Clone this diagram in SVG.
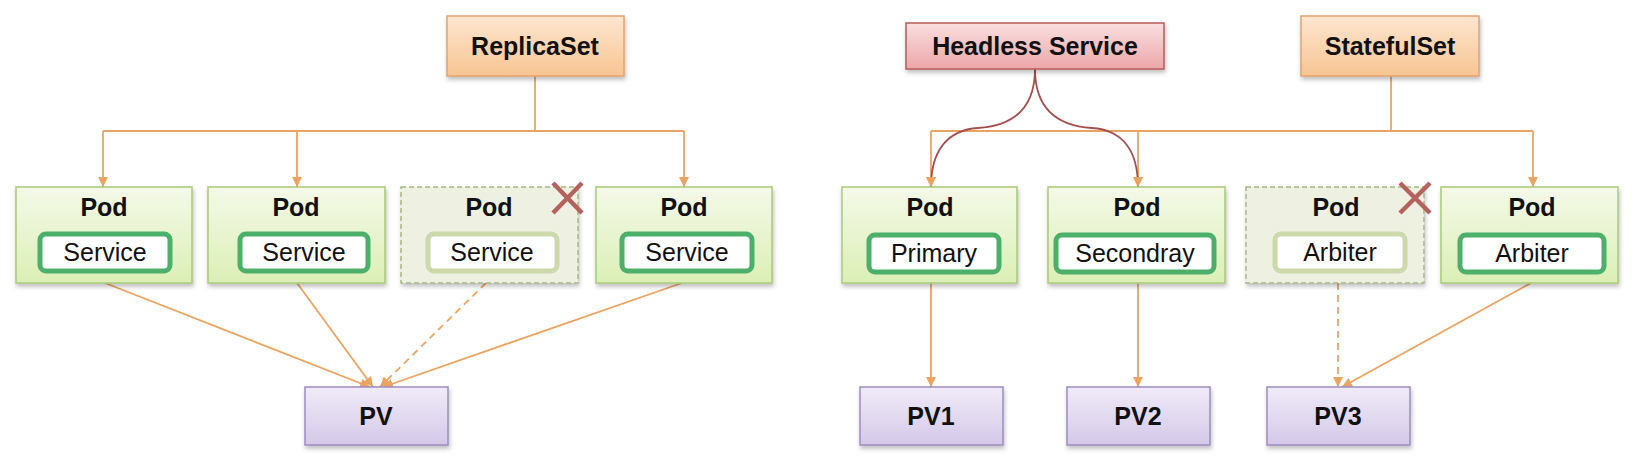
<svg xmlns="http://www.w3.org/2000/svg" width="1634" height="464" viewBox="0 0 1634 464">
<defs>
<linearGradient id="gPod" x1="0" y1="0" x2="0" y2="1"><stop offset="0" stop-color="#f4f9e8"/><stop offset="1" stop-color="#dcefb6"/></linearGradient>
<linearGradient id="gOr" x1="0" y1="0" x2="0" y2="1"><stop offset="0" stop-color="#fde6d0"/><stop offset="1" stop-color="#f8c592"/></linearGradient>
<linearGradient id="gPk" x1="0" y1="0" x2="0" y2="1"><stop offset="0" stop-color="#fadfe0"/><stop offset="1" stop-color="#eca6a8"/></linearGradient>
<linearGradient id="gPu" x1="0" y1="0" x2="0" y2="1"><stop offset="0" stop-color="#f0ebf8"/><stop offset="1" stop-color="#d4c8e8"/></linearGradient>
<filter id="sh" x="-10%" y="-10%" width="130%" height="140%"><feDropShadow dx="1" dy="3" stdDeviation="2" flood-color="#000" flood-opacity="0.25"/></filter>
<marker id="ah" viewBox="0 0 10 10" refX="10" refY="5" markerWidth="10" markerHeight="10" markerUnits="userSpaceOnUse" orient="auto"><path d="M0,0 L10,5 L0,10 z" fill="#e9a462"/></marker>
<style>
.pod{fill:url(#gPod);stroke:#a9c97a;stroke-width:1.5;filter:url(#sh)}
.podd{fill:#eef0e2;stroke:#a4b884;stroke-width:1.5;stroke-dasharray:5,3;filter:url(#sh)}
.in{fill:#fff;stroke:#4caf6a;stroke-width:5}
.ind{fill:#fff;stroke:#cbd9ab;stroke-width:5}
.or{fill:url(#gOr);stroke:#e2a36f;stroke-width:1.5;filter:url(#sh)}
.pk{fill:url(#gPk);stroke:#b9595a;stroke-width:1.5;filter:url(#sh)}
.pu{fill:url(#gPu);stroke:#9d8cc1;stroke-width:1.5;filter:url(#sh)}
.t{font-family:"Liberation Sans",Arial,sans-serif;font-weight:bold;font-size:25px;fill:#111;text-anchor:middle}
.h{font-family:"Liberation Sans",Arial,sans-serif;font-weight:bold;font-size:25px;fill:#111;text-anchor:middle}
.s{font-family:"Liberation Sans",Arial,sans-serif;font-size:25px;fill:#111;text-anchor:middle}
.c{fill:none;stroke:#e9a462;stroke-width:1.8}
.cm{fill:none;stroke:#e9a462;stroke-width:1.8;marker-end:url(#ah)}
.cd{fill:none;stroke:#e9a462;stroke-width:1.8;stroke-dasharray:7,5;marker-end:url(#ah)}
.hc{fill:none;stroke:#a3504f;stroke-width:1.8;marker-end:url(#ah)}
.x{stroke:#b5625e;stroke-width:4.5;stroke-linecap:butt}
</style>
</defs>
<rect width="1634" height="464" fill="#fff"/>

<g id="connectors">
<path class="c" d="M535,76 V131 M103,131 H684"/>
<path class="cm" d="M103,131 V187"/>
<path class="cm" d="M297,131 V187"/>
<path class="cm" d="M684,131 V187"/>
<path class="cm" d="M105,283 L370,387"/>
<path class="cm" d="M297,283 L373,387"/>
<path class="cd" d="M486,283 L380,387"/>
<path class="cm" d="M682,283 L383,387"/>
<path class="c" d="M1391,76 V131 M931,131 H1533"/>
<path class="cm" d="M931,131 V187"/>
<path class="cm" d="M1138,131 V187"/>
<path class="cm" d="M1533,131 V187"/>
<path class="hc" d="M1035,69 C1035,112 1010,126 978,128 C948,130 931,150 931,187"/>
<path class="hc" d="M1035,69 C1035,112 1060,126 1092,128 C1122,130 1138,150 1138,187"/>
<path class="cm" d="M931,283 V387"/>
<path class="cm" d="M1138,283 V387"/>
<path class="cd" d="M1338,283 V387"/>
<path class="cm" d="M1531,283 L1342,387"/>
</g>

<g id="replicaset"><rect class="or" x="447" y="16" width="177" height="60"/><text class="h" x="535" y="55">ReplicaSet</text></g>
<g id="headless"><rect class="pk" x="906" y="23" width="258" height="46"/><text class="h" x="1035" y="55">Headless Service</text></g>
<g id="statefulset"><rect class="or" x="1301" y="16" width="178" height="60"/><text class="h" x="1390" y="55">StatefulSet</text></g>

<g id="pod1"><rect class="pod" x="16" y="187" width="176" height="96"/><text class="t" x="104" y="216">Pod</text><rect class="in" x="40" y="234" width="130" height="37" rx="6"/><text class="s" x="105" y="261">Service</text></g>
<g id="pod2"><rect class="pod" x="208" y="187" width="177" height="96"/><text class="t" x="296" y="216">Pod</text><rect class="in" x="240" y="234" width="128" height="37" rx="6"/><text class="s" x="304" y="261">Service</text></g>
<g id="pod3"><rect class="podd" x="401" y="187" width="177" height="96"/><text class="t" x="489" y="216">Pod</text><rect class="ind" x="428" y="234" width="129" height="37" rx="6"/><text class="s" x="492" y="261">Service</text><path class="x" d="M553,183 L582,213 M582,183 L553,213"/></g>
<g id="pod4"><rect class="pod" x="596" y="187" width="176" height="96"/><text class="t" x="684" y="216">Pod</text><rect class="in" x="622" y="234" width="130" height="37" rx="6"/><text class="s" x="687" y="261">Service</text></g>

<g id="pod5"><rect class="pod" x="842" y="187" width="175" height="96"/><text class="t" x="930" y="216">Pod</text><rect class="in" x="869" y="235" width="130" height="37" rx="6"/><text class="s" x="934" y="262">Primary</text></g>
<g id="pod6"><rect class="pod" x="1048" y="187" width="177" height="96"/><text class="t" x="1137" y="216">Pod</text><rect class="in" x="1056" y="235" width="158" height="37" rx="6"/><text class="s" x="1135" y="262">Secondray</text></g>
<g id="pod7"><rect class="podd" x="1246" y="187" width="178" height="96"/><text class="t" x="1336" y="216">Pod</text><rect class="ind" x="1275" y="234" width="130" height="37" rx="6"/><text class="s" x="1340" y="261">Arbiter</text><path class="x" d="M1400,183 L1430,213 M1430,183 L1400,213"/></g>
<g id="pod8"><rect class="pod" x="1441" y="187" width="177" height="96"/><text class="t" x="1532" y="216">Pod</text><rect class="in" x="1460" y="235" width="144" height="37" rx="6"/><text class="s" x="1532" y="262">Arbiter</text></g>

<g id="pv"><rect class="pu" x="305" y="387" width="143" height="58"/><text class="t" x="376" y="425">PV</text></g>
<g id="pv1"><rect class="pu" x="860" y="387" width="143" height="58"/><text class="t" x="931" y="425">PV1</text></g>
<g id="pv2"><rect class="pu" x="1067" y="387" width="143" height="58"/><text class="t" x="1138" y="425">PV2</text></g>
<g id="pv3"><rect class="pu" x="1267" y="387" width="143" height="58"/><text class="t" x="1338" y="425">PV3</text></g>
</svg>
